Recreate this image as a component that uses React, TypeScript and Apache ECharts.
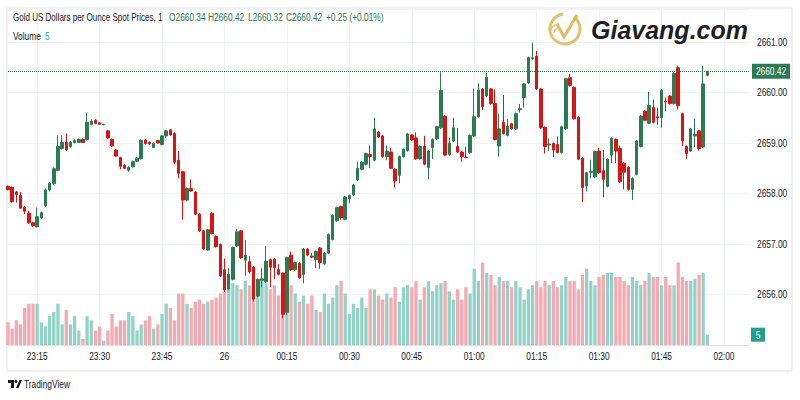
import React, { useEffect, useRef } from 'react';
import * as echarts from 'echarts';

// ---- data (1-minute candles, first candle at 23:08) ----
const START_TIME = '23:08';
const TOTAL_SLOTS = 179;

const opens = [
  2658.14, 2658.12, 2658.03, 2657.96, 2657.73, 2657.61, 2657.42, 2657.34, 2657.52, 2657.76,
  2658.07, 2658.20, 2658.46, 2658.89, 2659.01, 2658.93, 2659.01, 2659.01, 2659.07, 2659.07,
  2659.37, 2659.45, 2659.40, 2659.36, 2659.24, 2659.07, 2658.86, 2658.71, 2658.56, 2658.46,
  2658.53, 2658.64, 2658.69, 2659.06, 2659.01, 2658.91, 2659.05, 2658.97, 2659.14, 2659.26,
  2659.19, 2658.66, 2658.43, 2657.87, 2658.10, 2658.03, 2657.59, 2657.26, 2656.88, 2657.61,
  2657.15, 2656.99, 2656.49, 2656.11, 2656.30, 2656.96, 2657.26, 2656.68, 2656.65, 2656.54,
  2655.97, 2656.28, 2656.25, 2656.69, 2656.70, 2656.49, 2656.42, 2655.65, 2656.78, 2656.49,
  2656.62, 2656.40, 2656.90, 2656.76, 2656.69, 2656.92, 2656.61, 2656.82, 2657.09, 2657.46,
  2657.74, 2657.49, 2657.89, 2657.97, 2658.27, 2658.48, 2658.58, 2658.77, 2658.66, 2659.22,
  2659.14, 2658.73, 2658.82, 2658.48, 2658.36, 2658.73, 2658.85, 2659.16, 2659.10, 2658.69,
  2658.93, 2658.51, 2658.91, 2659.08, 2659.30, 2659.53, 2658.77, 2659.04, 2658.93, 2658.82,
  2658.72, 2658.81, 2659.14, 2659.52, 2660.07, 2659.93, 2660.07, 2659.78, 2658.94, 2659.41,
  2659.15, 2659.38, 2659.28, 2659.66, 2659.90, 2660.19, 2660.67, 2660.72, 2660.07, 2659.31,
  2658.96, 2658.99, 2658.97, 2658.81, 2659.28, 2660.29, 2660.10, 2659.51, 2658.70, 2658.15,
  2658.42, 2658.33, 2658.84, 2658.45, 2658.14, 2658.76, 2659.07, 2658.89, 2658.60, 2658.52,
  2658.08, 2658.38, 2658.93, 2659.63, 2659.39, 2659.70, 2659.52, 2659.50, 2659.83, 2659.93,
  2659.78, 2660.49, 2659.58, 2658.93, 2658.84, 2659.14, 2659.24, 2658.92, 2660.34,
];
const highs = [
  2658.16, 2658.14, 2658.05, 2658.03, 2657.75, 2657.66, 2657.44, 2657.72, 2657.64, 2658.10,
  2658.23, 2658.52, 2659.15, 2659.15, 2659.19, 2659.04, 2659.07, 2659.09, 2659.09, 2659.60,
  2659.47, 2659.47, 2659.41, 2659.38, 2659.26, 2659.09, 2658.88, 2658.73, 2658.58, 2658.54,
  2658.65, 2658.72, 2659.07, 2659.08, 2659.03, 2659.01, 2659.06, 2659.16, 2659.26, 2659.28,
  2659.21, 2658.84, 2658.45, 2658.12, 2658.28, 2658.05, 2657.61, 2657.28, 2657.30, 2657.63,
  2657.17, 2657.01, 2656.71, 2656.52, 2656.95, 2657.30, 2657.28, 2657.08, 2656.76, 2656.56,
  2656.32, 2656.52, 2656.96, 2656.71, 2656.72, 2656.60, 2656.44, 2656.75, 2656.85, 2656.65,
  2656.64, 2656.92, 2656.92, 2656.82, 2656.87, 2656.94, 2656.84, 2657.21, 2657.59, 2657.74,
  2657.76, 2657.95, 2657.98, 2658.19, 2658.63, 2658.64, 2658.81, 2658.95, 2659.50, 2659.24,
  2659.16, 2658.95, 2658.90, 2658.50, 2658.75, 2658.89, 2659.20, 2659.18, 2659.21, 2658.95,
  2659.14, 2658.86, 2659.09, 2659.34, 2660.40, 2659.55, 2659.10, 2659.50, 2659.30, 2658.84,
  2658.93, 2659.17, 2660.08, 2660.18, 2660.09, 2660.39, 2660.09, 2660.06, 2659.58, 2659.95,
  2659.47, 2659.40, 2659.60, 2659.77, 2660.19, 2660.71, 2660.99, 2660.82, 2660.09, 2659.33,
  2659.09, 2659.01, 2659.13, 2659.34, 2660.29, 2660.37, 2660.12, 2659.53, 2658.72, 2658.43,
  2658.67, 2658.85, 2658.90, 2658.86, 2658.70, 2659.11, 2659.09, 2658.95, 2658.62, 2658.54,
  2658.32, 2659.06, 2659.55, 2659.65, 2660.01, 2659.86, 2659.70, 2660.06, 2659.90, 2659.95,
  2660.40, 2660.53, 2659.60, 2658.95, 2659.30, 2659.48, 2659.26, 2660.53, 2660.42,
];
const lows = [
  2658.06, 2657.82, 2657.82, 2657.70, 2657.59, 2657.40, 2657.34, 2657.33, 2657.50, 2657.74,
  2658.04, 2658.16, 2658.44, 2658.87, 2658.84, 2658.91, 2658.99, 2659.00, 2659.00, 2659.05,
  2659.35, 2659.37, 2659.36, 2659.35, 2659.08, 2658.92, 2658.72, 2658.48, 2658.48, 2658.43,
  2658.51, 2658.62, 2658.67, 2658.97, 2658.96, 2658.90, 2658.99, 2658.95, 2659.10, 2659.14,
  2658.58, 2658.30, 2657.48, 2657.85, 2658.03, 2657.57, 2657.24, 2656.88, 2656.86, 2657.19,
  2656.93, 2656.35, 2656.05, 2656.08, 2656.28, 2656.94, 2656.70, 2656.37, 2656.41, 2655.86,
  2655.95, 2656.14, 2656.23, 2656.14, 2656.30, 2656.38, 2655.53, 2655.60, 2656.47, 2656.47,
  2656.31, 2656.22, 2656.76, 2656.72, 2656.52, 2656.51, 2656.59, 2656.80, 2657.07, 2657.44,
  2657.48, 2657.47, 2657.80, 2657.95, 2658.25, 2658.46, 2658.56, 2658.50, 2658.64, 2659.10,
  2658.71, 2658.66, 2658.48, 2658.12, 2658.20, 2658.71, 2658.83, 2659.04, 2658.67, 2658.67,
  2658.56, 2658.28, 2658.68, 2659.06, 2659.28, 2658.74, 2658.75, 2659.02, 2658.80, 2658.63,
  2658.70, 2658.79, 2659.12, 2659.50, 2659.65, 2659.91, 2659.76, 2659.05, 2658.73, 2659.17,
  2659.13, 2659.26, 2659.26, 2659.60, 2659.70, 2660.17, 2660.65, 2660.05, 2659.28, 2658.79,
  2658.84, 2658.72, 2658.79, 2658.79, 2659.26, 2660.12, 2659.46, 2658.66, 2657.83, 2658.04,
  2658.30, 2658.31, 2658.39, 2657.92, 2658.12, 2658.60, 2658.60, 2658.21, 2658.08, 2658.06,
  2657.87, 2658.36, 2658.91, 2659.43, 2659.37, 2659.39, 2659.36, 2659.30, 2659.63, 2659.76,
  2659.76, 2659.66, 2658.94, 2658.69, 2658.82, 2658.92, 2658.85, 2658.90, 2660.32,
];
const closes = [
  2658.08, 2657.84, 2657.98, 2657.71, 2657.65, 2657.42, 2657.36, 2657.54, 2657.62, 2658.07,
  2658.20, 2658.49, 2658.93, 2659.01, 2658.86, 2659.02, 2659.05, 2659.07, 2659.01, 2659.41,
  2659.43, 2659.39, 2659.37, 2659.37, 2659.10, 2658.94, 2658.74, 2658.54, 2658.50, 2658.52,
  2658.63, 2658.70, 2659.05, 2658.99, 2658.98, 2658.99, 2659.00, 2659.14, 2659.24, 2659.16,
  2658.62, 2658.40, 2657.87, 2658.10, 2658.05, 2657.59, 2657.26, 2656.90, 2657.28, 2657.21,
  2656.95, 2656.37, 2656.09, 2656.40, 2656.93, 2657.24, 2656.73, 2656.78, 2656.45, 2655.91,
  2656.30, 2656.31, 2656.66, 2656.54, 2656.53, 2656.40, 2655.61, 2656.73, 2656.49, 2656.63,
  2656.33, 2656.90, 2656.78, 2656.74, 2656.85, 2656.63, 2656.82, 2657.19, 2657.57, 2657.72,
  2657.52, 2657.93, 2657.96, 2658.17, 2658.50, 2658.62, 2658.79, 2658.73, 2659.28, 2659.12,
  2658.73, 2658.84, 2658.50, 2658.25, 2658.73, 2658.87, 2659.18, 2659.06, 2658.69, 2658.93,
  2658.58, 2658.84, 2659.07, 2659.32, 2660.04, 2658.76, 2659.00, 2659.30, 2658.82, 2658.73,
  2658.71, 2659.15, 2659.52, 2660.05, 2659.72, 2660.30, 2659.78, 2659.07, 2659.28, 2659.19,
  2659.33, 2659.28, 2659.58, 2659.68, 2660.17, 2660.69, 2660.69, 2660.07, 2659.30, 2658.93,
  2658.98, 2658.86, 2658.81, 2659.32, 2660.27, 2660.14, 2659.48, 2658.68, 2658.12, 2658.41,
  2658.44, 2658.83, 2658.41, 2658.28, 2658.68, 2659.09, 2658.84, 2658.23, 2658.42, 2658.08,
  2658.30, 2659.04, 2659.53, 2659.45, 2659.74, 2659.41, 2659.50, 2660.04, 2659.81, 2659.78,
  2660.38, 2659.74, 2659.04, 2658.79, 2659.28, 2659.17, 2658.89, 2660.17, 2660.42,
];
const volumes = [
  11, 8, 12, 10, 18, 20, 20, 20, 11, 9,
  14, 16, 20, 10, 17, 10, 14, 7, 3, 14,
  12, 7, 9, 2, 7, 15, 9, 12, 12, 16,
  14, 7, 10, 12, 14, 8, 10, 15, 20, 18,
  12, 25, 25, 20, 18, 21, 22, 20, 21, 22,
  23, 25, 26, 30, 30, 29, 27, 31, 29, 32,
  31, 31, 30, 27, 29, 24, 30, 28, 29, 25,
  21, 24, 20, 24, 17, 16, 25, 20, 23, 29,
  31, 25, 15, 20, 18, 23, 18, 27, 27, 24,
  22, 25, 23, 28, 21, 28, 29, 28, 31, 22,
  28, 31, 26, 29, 30, 31, 26, 22, 27, 22,
  28, 25, 37, 31, 40, 35, 34, 29, 33, 31,
  31, 28, 31, 28, 22, 27, 29, 31, 28, 31,
  29, 31, 28, 29, 33, 31, 31, 27, 34, 37,
  31, 29, 33, 34, 35, 35, 33, 33, 31, 29,
  33, 31, 29, 31, 35, 33, 33, 29, 33, 29,
  29, 40, 33, 31, 31, 32, 34, 35, 5,
];
const timeTickLabels = ['23:15', '23:30', '23:45', '26', '00:15', '00:30', '00:45', '01:00', '01:15', '01:30', '01:45', '02:00'];
const timeTickSlots = ['23:15', '23:30', '23:45', '00:00', '00:15', '00:30', '00:45', '01:00', '01:15', '01:30', '01:45', '02:00'];
const priceTicks = [2656, 2657, 2658, 2659, 2660, 2661];

const TITLE = 'Gold US Dollars per Ounce Spot Prices, 1';

// ---- styling ----
const UP = '#2b7b50';
const DOWN = '#d81414';
const VOL_UP = '#93d3c7';
const VOL_DOWN = '#f7a9b1';
const VOL_LABEL = '#22a08c';
const GRID = '#f0f3fa';
const BORDER = '#e0e3eb';
const TEXT = '#131722';
const FONT = '"Liberation Sans", Arial, sans-serif';
const SX = 0.76; // horizontal squeeze to mimic the narrow UI font

function pad(n: number) {
  return n < 10 ? '0' + n : String(n);
}

function txt(x: number, y: number, text: string, fill: string, align: string = 'left', sx = SX): any {
  return {
    type: 'text',
    x,
    y,
    scaleX: sx,
    silent: true,
    z: 20,
    style: { text, fill, font: `11px ${FONT}`, align, verticalAlign: 'middle' },
  };
}

export default function App() {
  const ref = useRef<HTMLDivElement>(null);

  useEffect(() => {
    if (!ref.current) return;
    const chart = echarts.init(ref.current, undefined, { renderer: 'svg' });

    const [sh, sm] = START_TIME.split(':').map(Number);
    const startMin = sh * 60 + sm;
    const categories: string[] = [];
    for (let i = 0; i < TOTAL_SLOTS; i++) {
      const m = (startMin + i) % 1440;
      categories.push(pad(Math.floor(m / 60)) + ':' + pad(m % 60));
    }
    const tickSet = new Set(timeTickSlots);
    const isTick = (_i: number, v: string) => tickSet.has(v);

    const candleData = opens.map((o, i) => [o, closes[i], lows[i], highs[i]]);
    const volData = volumes.map((v, i) => ({
      value: v,
      itemStyle: { color: closes[i] >= opens[i] ? VOL_UP : VOL_DOWN },
    }));

    const n = closes.length;
    const lastO = opens[n - 1];
    const lastH = highs[n - 1];
    const lastL = lows[n - 1];
    const lastC = closes[n - 1];
    const lastV = volumes[n - 1];
    const chg = lastC - closes[n - 2];
    const chgPct = (chg / closes[n - 2]) * 100;
    const sign = chg >= 0 ? '+' : '';
    const headColor = chg >= 0 ? UP : DOWN;

    const option: any = {
      animation: false,
      backgroundColor: '#ffffff',
      textStyle: { fontFamily: FONT },
      grid: { left: 8, right: 51, top: 9, bottom: 55, containLabel: false },
      xAxis: {
        type: 'category',
        data: categories,
        boundaryGap: false,
        axisLine: { show: true, lineStyle: { color: BORDER } },
        axisTick: { show: false },
        axisLabel: { show: false },
        splitLine: { show: true, interval: isTick, lineStyle: { color: GRID, width: 1 } },
      },
      yAxis: [
        {
          type: 'value',
          position: 'right',
          min: 2655,
          max: 2661.653,
          interval: 1,
          axisLine: { show: false },
          axisTick: { show: false },
          axisLabel: { show: false },
          splitLine: { show: true, lineStyle: { color: GRID, width: 1 } },
        },
        { type: 'value', min: 0, max: 163, show: false, splitLine: { show: false } },
      ],
      series: [
        {
          type: 'bar',
          yAxisIndex: 1,
          data: volData,
          barWidth: 3.3,
          clip: false,
          z: 1,
        },
        {
          type: 'candlestick',
          data: candleData,
          barWidth: 3,
          clip: false,
          z: 3,
          itemStyle: {
            color: UP,
            color0: DOWN,
            borderColor: UP,
            borderColor0: DOWN,
            borderWidth: 1,
          },
          markLine: {
            silent: true,
            symbol: ['none', 'none'],
            lineStyle: { color: UP, type: 'dotted', width: 1 },
            data: [{ yAxis: lastC }],
            label: { show: false },
          },
        },
      ],
    };

    chart.setOption(option);

    const g: any[] = [
      {
        type: 'rect',
        shape: { x: 7, y: 8, width: 785, height: 363 },
        style: { fill: 'none', stroke: BORDER, lineWidth: 1 },
        silent: true,
        z: -10,
      },
      // header
      txt(13, 17, TITLE, TEXT, 'left', 0.73),
      txt(169, 17, 'O' + lastO.toFixed(2), headColor),
      txt(208, 17, 'H' + lastH.toFixed(2), headColor),
      txt(248, 17, 'L' + lastL.toFixed(2), headColor),
      txt(286, 17, 'C' + lastC.toFixed(2), headColor),
      txt(326, 17, `${sign}${chg.toFixed(2)} (${sign}${chgPct.toFixed(2)}%)`, headColor),
      txt(13, 36, 'Volume', TEXT),
      txt(45, 36, String(lastV), '#26a69a'),
      // Giavang watermark
      {
        type: 'arc',
        shape: { cx: 565, cy: 29, r: 15, startAngle: -0.9, endAngle: 4.6 },
        style: { stroke: '#dfb654', lineWidth: 3, fill: 'none', opacity: 0.85 },
        silent: true,
      },
      {
        type: 'polyline',
        shape: { points: [[557, 24], [564, 37], [577, 15]] },
        style: { stroke: '#dcae48', lineWidth: 3, fill: 'none', opacity: 0.85 },
        silent: true,
      },
      {
        type: 'arc',
        shape: { cx: 559, cy: 33, r: 5, startAngle: Math.PI, endAngle: Math.PI * 1.5 },
        style: { stroke: '#e2bd60', lineWidth: 1.5, fill: 'none', opacity: 0.85 },
        silent: true,
      },
      {
        type: 'arc',
        shape: { cx: 559, cy: 33, r: 9, startAngle: Math.PI, endAngle: Math.PI * 1.5 },
        style: { stroke: '#e2bd60', lineWidth: 1.5, fill: 'none', opacity: 0.85 },
        silent: true,
      },
      {
        type: 'text',
        x: 591,
        y: 30,
        silent: true,
        style: {
          text: 'Giavang.com',
          font: 'italic bold 25px "Liberation Sans", Arial, sans-serif',
          verticalAlign: 'middle',
          opacity: 0.9,
          fill: new echarts.graphic.LinearGradient(0, 0, 0, 1, [
            { offset: 0, color: '#f4d583' },
            { offset: 1, color: '#dbae4c' },
          ]),
        },
      },
      // TradingView logo
      { type: 'rect', shape: { x: 8, y: 380, width: 6, height: 3 }, style: { fill: TEXT }, silent: true },
      { type: 'rect', shape: { x: 11, y: 380, width: 3, height: 8 }, style: { fill: TEXT }, silent: true },
      { type: 'circle', shape: { cx: 16, cy: 381.5, r: 1.5 }, style: { fill: TEXT }, silent: true },
      { type: 'polygon', shape: { points: [[16, 388], [18.5, 388], [22, 380], [19.5, 380]] }, style: { fill: TEXT }, silent: true },
      txt(24, 384, 'TradingView', TEXT),
    ];

    // time axis labels
    timeTickSlots.forEach((slot, k) => {
      const x = chart.convertToPixel({ xAxisIndex: 0 }, slot) as number;
      g.push(txt(x, 356, timeTickLabels[k], TEXT, 'center'));
    });
    // price axis labels
    priceTicks.forEach((p) => {
      const y = chart.convertToPixel({ yAxisIndex: 0 }, p) as number;
      g.push(txt(757, y, p.toFixed(2), TEXT));
    });
    // last price box
    const yLast = chart.convertToPixel({ yAxisIndex: 0 }, lastC) as number;
    g.push({ type: 'rect', shape: { x: 752, y: yLast - 7.5, width: 38, height: 15 }, style: { fill: UP }, silent: true, z: 19 });
    g.push(txt(771, yLast, lastC.toFixed(2), '#ffffff', 'center'));
    // last volume box
    const yVol = chart.convertToPixel({ yAxisIndex: 1 }, lastV) as number;
    g.push({ type: 'rect', shape: { x: 751, y: yVol - 7, width: 14, height: 14 }, style: { fill: VOL_LABEL }, silent: true, z: 19 });
    g.push(txt(758, yVol, String(lastV), '#ffffff', 'center'));

    chart.setOption({ graphic: g });
    return () => chart.dispose();
  }, []);

  return <div ref={ref} style={{ width: 800, height: 400, position: 'absolute', left: 0, top: 0 }} />;
}
